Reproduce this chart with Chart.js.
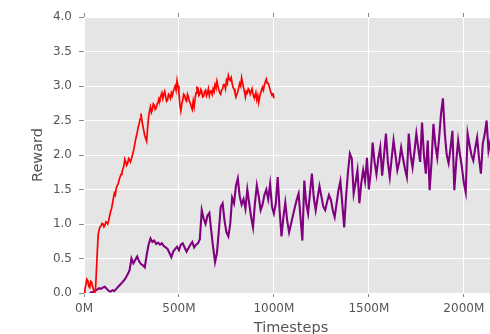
<!DOCTYPE html>
<html>
<head>
<meta charset="utf-8">
<script src="https://cdn.jsdelivr.net/npm/chart.js@4"></script>
<style>
html, body { margin: 0; padding: 0; overflow: hidden; background: #fff; width: 490px; height: 334px; }
#wrap { width: 500px; height: 340px; }
</style>
</head>
<body>
<div id="wrap"><canvas id="c" width="500" height="340"></canvas></div>
<script>
// Reward per training run; the red run is logged every 5M timesteps,
// the purple run every 10M timesteps.
const redStart = 0;
const redStep = 5;
const redReward = [
  0.00, 0.06, 0.12, 0.20, 0.18, 0.10, 0.08, 0.17, 0.16, 0.09,
  0.05, 0.00, 0.02, 0.30, 0.60, 0.85, 0.92, 0.96, 0.97, 1.01,
  1.00, 0.96, 0.98, 1.03, 1.02, 1.00, 1.05, 1.12, 1.18, 1.22,
  1.30, 1.38, 1.45, 1.42, 1.52, 1.56, 1.58, 1.64, 1.68, 1.72,
  1.75, 1.80, 1.84, 1.94, 1.90, 1.85, 1.88, 1.95, 1.93, 1.90,
  1.95, 2.00, 2.05, 2.12, 2.20, 2.26, 2.32, 2.40, 2.45, 2.52,
  2.60, 2.50, 2.42, 2.35, 2.28, 2.24, 2.20, 2.40, 2.55, 2.64,
  2.70, 2.62, 2.66, 2.74, 2.72, 2.66, 2.68, 2.74, 2.76, 2.82,
  2.80, 2.86, 2.90, 2.82, 2.88, 2.92, 2.84, 2.78, 2.80, 2.88,
  2.86, 2.82, 2.90, 2.86, 2.92, 2.96, 3.00, 2.94, 3.08, 3.00,
  2.90, 2.72, 2.64, 2.74, 2.80, 2.88, 2.86, 2.80, 2.78, 2.88,
  2.84, 2.78, 2.75, 2.70, 2.66, 2.78, 2.70, 2.82, 2.90, 2.98,
  2.97, 2.86, 2.88, 2.95, 2.92, 2.84, 2.85, 2.92, 2.94, 2.86,
  2.90, 2.96, 2.86, 2.92, 2.93, 2.88, 2.96, 2.92, 3.02, 2.98,
  3.07, 3.00, 2.95, 2.90, 2.88, 2.94, 2.96, 3.02, 3.02, 2.96,
  3.08, 3.04, 3.15, 3.10, 3.08, 3.12, 3.04, 2.98, 2.96, 2.90,
  2.84, 2.88, 2.92, 2.98, 3.04, 3.00, 3.12, 3.05, 2.98, 2.92,
  2.84, 2.92, 2.90, 2.96, 2.94, 2.88, 2.92, 2.96, 2.88, 2.84,
  2.84, 2.90, 2.80, 2.86, 2.76, 2.84, 2.90, 2.94, 2.98, 2.94,
  3.02, 3.06, 3.10, 3.04, 3.04, 3.00, 2.94, 2.90, 2.86, 2.90,
  2.82
];
const purpleStart = 30;
const purpleStep = 10;
const purpleReward = [
  0.00, 0.01, 0.02, 0.04, 0.05, 0.07, 0.06, 0.08, 0.09, 0.06,
  0.03, 0.02, 0.04, 0.03, 0.06, 0.09, 0.12, 0.15, 0.18, 0.22,
  0.27, 0.33, 0.50, 0.43, 0.48, 0.53, 0.46, 0.42, 0.40, 0.37,
  0.55, 0.70, 0.79, 0.74, 0.76, 0.71, 0.73, 0.70, 0.72, 0.68,
  0.66, 0.64, 0.58, 0.52, 0.60, 0.64, 0.67, 0.62, 0.70, 0.72,
  0.66, 0.60, 0.65, 0.70, 0.74, 0.66, 0.70, 0.72, 0.78, 1.20,
  1.08, 1.00, 1.12, 1.16, 0.90, 0.66, 0.45, 0.58, 0.90, 1.25,
  1.30, 1.05, 0.88, 0.82, 1.00, 1.38, 1.30, 1.55, 1.66, 1.40,
  1.28, 1.36, 1.22, 1.50, 1.30, 1.10, 0.95, 1.30, 1.56, 1.40,
  1.20, 1.28, 1.42, 1.50, 1.36, 1.58, 1.25, 1.15, 1.30, 1.68,
  1.20, 0.82, 1.10, 1.31, 1.05, 0.88, 1.00, 1.12, 1.24, 1.35,
  1.44, 1.10, 0.76, 1.63, 1.30, 1.15, 1.45, 1.73, 1.38, 1.20,
  1.38, 1.55, 1.40, 1.25, 1.20, 1.32, 1.42, 1.35, 1.20, 1.10,
  1.30, 1.49, 1.62, 1.30, 0.95, 1.40, 1.75, 2.02, 1.95, 1.44,
  1.60, 1.78, 1.30, 1.59, 1.78, 1.62, 1.96, 1.50, 1.75, 2.18,
  1.90, 1.72, 1.95, 2.11, 1.70, 2.00, 2.31, 1.90, 1.68, 1.95,
  2.21, 2.00, 1.78, 1.90, 2.11, 1.95, 1.80, 1.68, 2.31, 2.00,
  1.82, 2.05, 2.31, 2.10, 1.90, 2.47, 2.00, 1.73, 2.21, 1.49,
  1.90, 2.45, 2.15, 1.96, 2.25, 2.60, 2.82, 2.31, 2.00, 1.88,
  2.10, 2.35, 1.49, 1.90, 2.21, 2.00, 1.82, 1.60, 1.46, 2.31,
  2.15, 2.00, 1.92, 2.10, 2.25, 1.95, 1.73, 2.17, 2.30, 2.50,
  2.06, 2.20, 1.95, 2.10, 1.90, 2.05
];
const xTicks = [0, 500, 1000, 1500, 2000];
const yTicks = [0, 0.5, 1, 1.5, 2, 2.5, 3, 3.5, 4];

const X_MAX = 2180;

function toPoints(start, step, values) {
  return values.map((v, i) => ({ x: start + i * step, y: v }));
}

const TEXT = '#555555';
const FONT = 'DejaVu Sans';

const panelBg = {
  id: 'panelBg',
  beforeDraw(chart) {
    const a = chart.chartArea, ctx = chart.ctx;
    ctx.save();
    ctx.fillStyle = '#e5e5e5';
    ctx.fillRect(a.left, a.top, a.right - a.left, a.bottom - a.top);
    ctx.restore();
  }
};

function keepTicks(list) {
  return scale => { scale.ticks = list.map(v => ({ value: v })); };
}

new Chart(document.getElementById('c'), {
  type: 'line',
  data: {
    datasets: [
      {
        data: toPoints(redStart, redStep, redReward),
        borderColor: '#ff0000',
        borderWidth: 1.7,
        pointRadius: 0,
        tension: 0
      },
      {
        data: toPoints(purpleStart, purpleStep, purpleReward),
        borderColor: '#800080',
        borderWidth: 2.1,
        pointRadius: 0,
        tension: 0
      }
    ]
  },
  options: {
    responsive: false,
    animation: false,
    events: [],
    layout: { padding: { left: 0, right: 2, top: 0, bottom: 0 } },
    plugins: { legend: { display: false }, tooltip: { enabled: false } },
    scales: {
      x: {
        type: 'linear',
        position: 'bottom',
        min: 0,
        max: X_MAX,
        afterBuildTicks: keepTicks(xTicks),
        afterFit: s => { s.height = 47; },
        border: { display: false },
        grid: { color: '#ffffff', lineWidth: 1, tickColor: '#888888', tickLength: 4 },
        ticks: {
          color: TEXT,
          font: { family: FONT, size: 12 },
          padding: 5,
          maxRotation: 0,
          callback: v => v + 'M'
        },
        title: {
          display: true,
          text: 'Timesteps',
          color: TEXT,
          font: { family: FONT, size: 14.5 },
          padding: { top: 0, bottom: 3.5 }
        }
      },
      xTop: {
        type: 'linear',
        position: 'top',
        min: 0,
        max: X_MAX,
        afterBuildTicks: keepTicks(xTicks),
        afterFit: s => { s.height = 17; },
        border: { display: false },
        grid: { drawOnChartArea: false, tickColor: '#888888', tickLength: 4 },
        ticks: { display: false }
      },
      y: {
        type: 'linear',
        min: 0,
        max: 4,
        afterBuildTicks: keepTicks(yTicks),
        afterFit: s => { s.width = 84; },
        border: { display: false },
        grid: { color: '#ffffff', lineWidth: 1, tickColor: '#888888', tickLength: 5 },
        ticks: {
          color: TEXT,
          font: { family: FONT, size: 12 },
          padding: 7,
          callback: v => v.toFixed(1)
        },
        title: {
          display: true,
          text: 'Reward',
          color: TEXT,
          font: { family: FONT, size: 14.5 },
          padding: { top: 30, bottom: 0 }
        }
      }
    }
  },
  plugins: [panelBg]
});
</script>
</body>
</html>
